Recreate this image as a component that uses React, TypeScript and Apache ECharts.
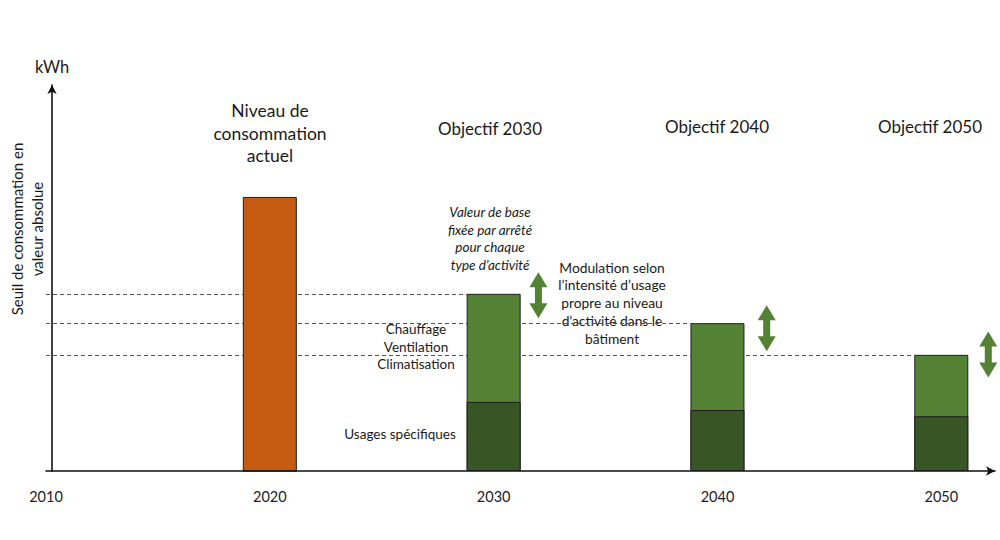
import React, { useEffect, useRef } from "react";
import * as echarts from "echarts";

const years = [2020, 2030, 2040, 2050];
const totalConsumption = [71, 45.9, 38.3, 30.1];
const specificUses = [0, 17.9, 15.8, 14.2];
const xTickLabels = [2010, 2020, 2030, 2040, 2050];
const thresholdLevels = [45.9, 38.3, 30.1];
const thresholdEnds = [2028.8, 2038.8, 2048.8];
const arrowX = [2032, 2042.2, 2052.1];
const arrowY = [45.5, 37, 30.2];

const FONT = "Lato, 'Open Sans', sans-serif";
const ORANGE = "#C55A11";
const LIGHT_GREEN = "#548235";
const DARK_GREEN = "#375623";

const ARROW_PATH =
  "path://M9,0L18,15L12.5,15L12.5,31L18,31L9,46L0,31L5.5,31L5.5,15L0,15Z";

function txt(text: string, x: number, y: number, size: number, lh: number, extra: any = {}) {
  const { fontStyle, ...rest } = extra;
  return {
    type: "text",
    x,
    y,
    silent: true,
    ...rest,
    style: {
      text,
      x: 0,
      y: 0,
      fill: "#1a1a1a",
      font: `${fontStyle || "normal"} ${size}px ${FONT}`,
      textAlign: "center",
      textVerticalAlign: "middle",
      lineHeight: lh,
    },
  };
}

export default function App() {
  const ref = useRef<HTMLDivElement>(null);

  useEffect(() => {
    if (!ref.current) return;
    const chart = echarts.init(ref.current, undefined, { renderer: "svg" });

    const option: any = {
      animation: false,
      backgroundColor: "#ffffff",
      grid: { left: 46, right: 5, top: 85, bottom: 69 },
      xAxis: {
        type: "value",
        min: 2010,
        max: 2052.4,
        interval: 10,
        axisLine: {
          show: true,
          lineStyle: { color: "#111", width: 1.6 },
          symbol: ["none", "arrow"],
          symbolSize: [7, 9],
        },
        axisTick: { show: false },
        splitLine: { show: false },
        axisLabel: {
          color: "#222",
          fontFamily: FONT,
          fontSize: 14.5,
          margin: 18,
          showMaxLabel: false,
          formatter: (v: number) => (xTickLabels.includes(v) ? String(v) : ""),
        },
      },
      yAxis: {
        type: "value",
        min: 0,
        max: 100,
        offset: -6,
        name: "kWh",
        nameLocation: "end",
        nameGap: 10,
        nameTextStyle: { color: "#1a1a1a", fontFamily: FONT, fontSize: 16.5 },
        axisLine: {
          show: true,
          lineStyle: { color: "#111", width: 1.6 },
          symbol: ["none", "arrow"],
          symbolSize: [7, 9],
        },
        axisTick: { show: false },
        axisLabel: { show: false },
        splitLine: { show: false },
      },
      series: [
        {
          type: "bar",
          name: "total",
          barWidth: 54,
          barGap: "-100%",
          z: 3,
          data: years.map((y, i) => ({
            value: [y, totalConsumption[i]],
            itemStyle: { color: i === 0 ? ORANGE : LIGHT_GREEN },
          })),
          itemStyle: { borderColor: "#1f1f1f", borderWidth: 1 },
          markLine: {
            silent: true,
            z: 1,
            symbol: ["none", "none"],
            label: { show: false },
            lineStyle: { color: "#555", width: 1, type: [4, 3] },
            data: thresholdLevels.map((lv, i) => [
              { coord: [2010, lv] },
              { coord: [thresholdEnds[i], lv] },
            ]),
          },
        },
        {
          type: "bar",
          name: "specific",
          barWidth: 54,
          barGap: "-100%",
          z: 4,
          data: years.map((y, i) => [y, specificUses[i]]),
          itemStyle: { color: DARK_GREEN, borderColor: "#1f1f1f", borderWidth: 1 },
        },
        {
          type: "scatter",
          name: "arrows",
          clip: false,
          symbol: ARROW_PATH,
          symbolSize: [18, 46],
          itemStyle: { color: LIGHT_GREEN, opacity: 1 },
          data: arrowX.map((x, i) => [x, arrowY[i]]),
          silent: true,
        },
      ],
      graphic: [
        txt("Seuil de consommation en\nvaleur absolue", 27, 229, 15, 20, { rotation: Math.PI / 2 }),
        txt("Niveau de\nconsommation\nactuel", 270, 133, 17.5, 22.5),
        txt("Objectif 2030", 490, 128, 17, 20),
        txt("Objectif 2040", 717, 126, 17, 20),
        txt("Objectif 2050", 930, 126, 17, 20),
        txt("Valeur de base\nfixée par arrêté\npour chaque\ntype d\u2019activité", 490, 238.5, 13.5, 17.7, { fontStyle: "italic" }),
        txt("Modulation selon\nl\u2019intensité d\u2019usage\npropre au niveau\nd\u2019activité dans le\nbâtiment", 612, 302.5, 13.8, 17.75),
        txt("Chauffage\nVentilation\nClimatisation", 416, 346.5, 13.5, 17.5),
        txt("Usages spécifiques", 400, 434, 13.5, 17),
      ],
    };

    chart.setOption(option);
    return () => chart.dispose();
  }, []);

  return (
    <div
      ref={ref}
      style={{ position: "fixed", left: 0, top: 0, width: 1000, height: 540, background: "#fff" }}
    />
  );
}
